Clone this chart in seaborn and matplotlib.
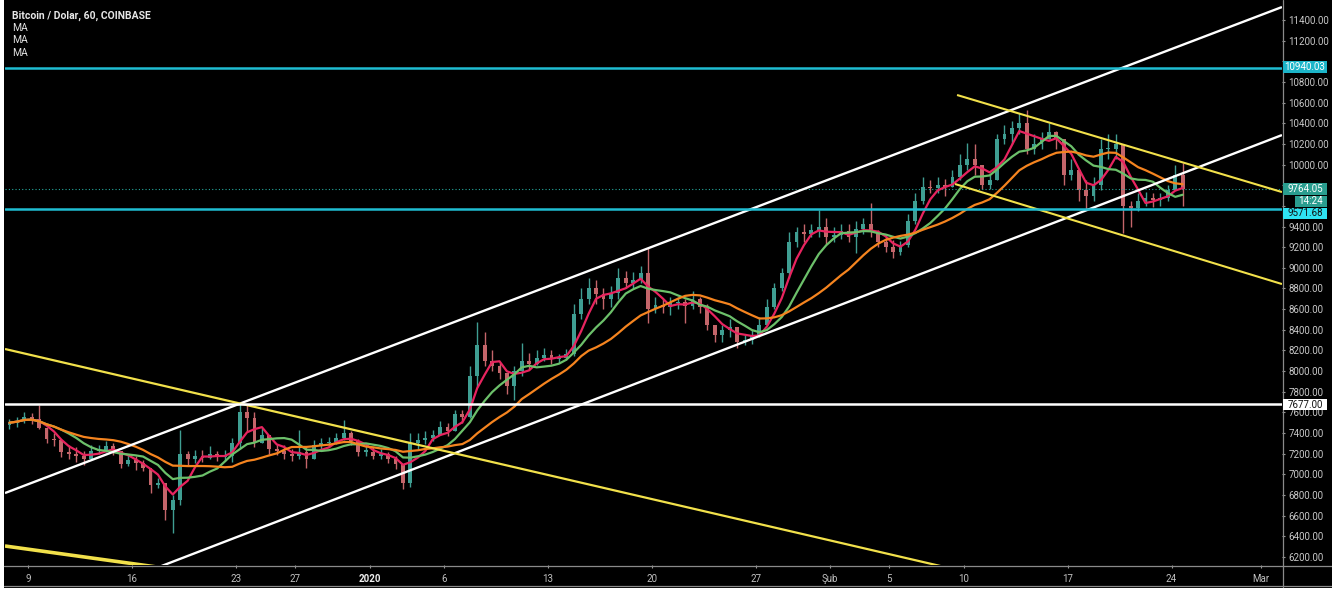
import numpy as np
import pandas as pd
import matplotlib
matplotlib.use("Agg")
import matplotlib.pyplot as plt
import matplotlib.dates as mdates
from matplotlib.patches import Rectangle
from matplotlib.lines import Line2D
from matplotlib import font_manager as fm
import seaborn as sns

# ------------------------------------------------------------------ data
first_open = 7480
candle_start = "2019-12-07 12:00"   # 12-hour candles
closes = [7500, 7520, 7560, 7540, 7450, 7340, 7330, 7220, 7200, 7180,
          7150, 7230, 7240, 7270, 7230, 7100, 7140, 7110, 7060, 6900,
          6920, 6650, 6750, 7200, 7150, 7180, 7160, 7200, 7170, 7180,
          7300, 7600, 7550, 7300, 7380, 7250, 7230, 7200, 7180, 7220,
          7150, 7280, 7300, 7310, 7350, 7400, 7320, 7220, 7220, 7180,
          7200, 7150, 7100, 6920, 7300, 7330, 7350, 7380, 7460, 7420,
          7580, 7560, 7950, 8250, 8100, 8050, 7980, 7860, 8000, 8100,
          8070, 8130, 8160, 8120, 8130, 8170, 8550, 8700, 8800, 8750,
          8700, 8760, 8900, 8850, 8880, 8950, 8600, 8640, 8620, 8660,
          8670, 8630, 8700, 8620, 8450, 8350, 8400, 8430, 8280, 8300,
          8350, 8450, 8620, 8800, 8950, 9250, 9350, 9330, 9370, 9400,
          9300, 9320, 9360, 9300, 9380, 9420, 9350, 9250, 9200, 9150,
          9220, 9450, 9650, 9780, 9770, 9800, 9780, 9880, 10000, 10050,
          10000, 9800, 9850, 10250, 10300, 10350, 10400, 10150, 10200, 10250,
          10320, 10250, 9900, 9950, 9750, 9700, 9800, 10150, 10150, 10200,
          9600, 9580, 9650, 9680, 9660, 9680, 9750, 9900, 9764.05]
highs = [7540, 7560, 7600, 7590, 7670, 7450, 7400, 7300, 7280, 7260,
         7230, 7280, 7280, 7320, 7300, 7220, 7200, 7180, 7140, 7050,
         6960, 6900, 6800, 7430, 7230, 7240, 7240, 7270, 7230, 7240,
         7350, 7680, 7680, 7600, 7450, 7380, 7290, 7280, 7250, 7430,
         7260, 7330, 7350, 7360, 7400, 7530, 7420, 7340, 7280, 7260,
         7250, 7220, 7180, 7100, 7400, 7400, 7420, 7430, 7520, 7500,
         7620, 7620, 8050, 8475, 8380, 8200, 8080, 7960, 8050, 8270,
         8180, 8200, 8220, 8200, 8170, 8210, 8650, 8800, 8900, 8880,
         8800, 8820, 9000, 8970, 8960, 9020, 9190, 8720, 8700, 8720,
         8720, 8700, 8780, 8720, 8650, 8450, 8450, 8500, 8350, 8350,
         8400, 8520, 8700, 8850, 9000, 9350, 9400, 9420, 9420, 9560,
         9480, 9400, 9420, 9420, 9450, 9480, 9630, 9370, 9300, 9270,
         9260, 9520, 9720, 9880, 9850, 9880, 9860, 9950, 10100, 10210,
         10200, 10000, 9900, 10300, 10380, 10420, 10500, 10530, 10300, 10320,
         10400, 10330, 10150, 10050, 9950, 9850, 9880, 10250, 10300, 10300,
         10200, 9650, 9720, 9730, 9720, 9720, 9800, 10000, 10020]
lows = [7440, 7460, 7500, 7490, 7440, 7300, 7270, 7170, 7150, 7120,
        7090, 7150, 7200, 7220, 7190, 7060, 7080, 7040, 7030, 6820,
        6870, 6560, 6430, 6700, 7080, 7110, 7120, 7150, 7130, 7130,
        7120, 7250, 7420, 7260, 7300, 7200, 7190, 7150, 7130, 7150,
        7060, 7150, 7250, 7260, 7290, 7330, 7280, 7180, 7180, 7150,
        7150, 7110, 7050, 6860, 6880, 7250, 7290, 7320, 7380, 7370,
        7420, 7500, 7550, 7850, 8050, 8000, 7920, 7780, 7720, 7950,
        8020, 8060, 8100, 8070, 8080, 8110, 8150, 8500, 8650, 8650,
        8600, 8620, 8700, 8800, 8800, 8850, 8470, 8560, 8560, 8540,
        8600, 8470, 8600, 8560, 8400, 8280, 8280, 8330, 8220, 8250,
        8260, 8330, 8450, 8600, 8780, 8900, 9200, 9250, 9300, 9300,
        9230, 9250, 9280, 9250, 9140, 9330, 9300, 9200, 9150, 9100,
        9120, 9200, 9420, 9620, 9720, 9720, 9700, 9780, 9850, 9950,
        9900, 9760, 9760, 9850, 10200, 10200, 10300, 10100, 10100, 10150,
        10250, 10150, 9800, 9850, 9650, 9560, 9650, 9750, 10050, 10050,
        9340, 9400, 9550, 9600, 9590, 9600, 9650, 9750, 9600]
ma_windows = [4, 8, 16]  # ~50 / 100 / 200 hourly bars expressed in 12h candles

level_lines = [10940.03, 9571.68, 7677.00]
last_price = 9764.05
countdown = "14:24"

upper_channel = [("2019-12-07 10:50", 6819), ("2020-03-02 10:30", 11526)]
lower_channel = [("2019-12-17 12:00", 6085), ("2020-03-02 10:30", 10286)]
long_yellow = [("2019-12-07 10:50", 8214), ("2020-02-10 00:00", 6060)]
short_yellow = [("2019-12-07 10:50", 6306), ("2019-12-18 00:00", 6096)]
desc_upper = [("2020-02-09 13:25", 10674), ("2020-03-02 10:30", 9734)]
desc_lower = [("2020-02-09 10:05", 9812), ("2020-03-02 10:30", 8843)]

date_ticks = ["2019-12-09", "2019-12-16", "2019-12-23", "2019-12-27", "2020-01-01",
              "2020-01-06", "2020-01-13", "2020-01-20", "2020-01-27", "2020-02-01",
              "2020-02-05", "2020-02-10", "2020-02-17", "2020-02-24", "2020-03-01"]
date_labels = ["9", "16", "23", "27", "2020", "6", "13", "20", "27", "Şub",
               "5", "10", "17", "24", "Mar"]
price_ticks = list(range(6200, 11401, 200))
hidden_price_labels = [11000, 9800, 9600]   # covered by the level / price boxes

title_text = "Bitcoin / Dolar, 60, COINBASE"
legend_texts = ["MA", "MA", "MA"]

# ------------------------------------------------------------------ style
W, H = 1332, 593
sns.set_theme(style="dark", rc={"axes.facecolor": "black", "figure.facecolor": "white",
                                "axes.grid": False, "axes.axisbelow": True})
names = {f.name for f in fm.fontManager.ttflist}
NARROW = "Liberation Sans Narrow" if "Liberation Sans Narrow" in names else "Roboto"
plt.rcParams["font.family"] = [NARROW, "DejaVu Sans"]

fig = plt.figure(figsize=(W / 100, H / 100), dpi=100)


def fx(px):
    return px / W


def fy(py):
    return 1 - py / H


# dark chart background (white margin outside like the screenshot)
fig.add_artist(Rectangle((fx(4), fy(588)), fx(1332 - 4), 588 / H, transform=fig.transFigure,
                         facecolor="black", edgecolor="none", zorder=0))

ax = fig.add_axes([fx(5), 28 / H, 1277 / W, 562 / H])
ax.set_facecolor("black")
for s in ax.spines.values():
    s.set_visible(False)

x_left = mdates.date2num(pd.Timestamp("2019-12-07 10:50"))
x_right = mdates.date2num(pd.Timestamp("2020-03-02 10:34"))
ax.set_xlim(x_left, x_right)
ax.set_ylim(6122, 11565)

# ------------------------------------------------------------------ candles
c = np.array(closes, dtype=float)
h = np.array(highs, dtype=float)
l = np.array(lows, dtype=float)
o = np.r_[first_open, c[:-1]]
dates = pd.date_range(candle_start, periods=len(c), freq="12h")
t = mdates.date2num(dates) + 0.25
up = c >= o
UP, DOWN = "#3f9e92", "#c4656a"
cols = np.where(up, UP, DOWN)
ax.vlines(t, l, h, colors=cols, linewidth=1.0, zorder=2)
body = np.maximum(np.abs(c - o), 12)
ax.bar(t, body, bottom=np.minimum(o, c), width=0.26, color=cols, edgecolor="none", zorder=2)

# ------------------------------------------------------------------ moving averages
ma_colors = ["#e8245f", "#6cc06a", "#f5841f"]
cs = pd.Series(c)
for w, col in zip(ma_windows, ma_colors):
    ma = cs.rolling(w, min_periods=1).mean()
    sns.lineplot(x=t, y=ma.values, ax=ax, color=col, linewidth=1.6, zorder=4, legend=False)

# ------------------------------------------------------------------ drawings
def tline(pts, color, lw):
    xs = [mdates.date2num(pd.Timestamp(p[0])) for p in pts]
    ys = [p[1] for p in pts]
    ax.plot(xs, ys, color=color, linewidth=lw, zorder=5, solid_capstyle="butt")


tline(upper_channel, "white", 1.7)
tline(lower_channel, "white", 1.7)
tline(long_yellow, "#f2e14b", 1.6)
tline(short_yellow, "#f2e14b", 2.6)
tline(desc_upper, "#f2e14b", 1.5)
tline(desc_lower, "#f2e14b", 1.5)

CYAN = "#1fbdd2"
ax.axhline(level_lines[0], color=CYAN, linewidth=1.8, zorder=5)
ax.axhline(level_lines[1], color=CYAN, linewidth=1.8, zorder=5)
ax.axhline(level_lines[2], color="white", linewidth=1.8, zorder=5)
ax.axhline(last_price, color="#26a69a", linewidth=0.8, linestyle=(0, (1, 2)), zorder=3)

# ------------------------------------------------------------------ axes / ticks
ax.yaxis.tick_right()
ax.set_yticks(price_ticks)
ax.set_yticklabels(["" if v in hidden_price_labels else f"{v:.2f}" for v in price_ticks])
ax.tick_params(axis="y", which="both", right=True, left=False, labelright=True, labelleft=False,
               length=2.5, width=0.8, color="#9a9a9a", pad=2, labelsize=7, labelcolor="#c8c8c8")
ax.set_xticks([mdates.date2num(pd.Timestamp(d)) for d in date_ticks])
ax.set_xticklabels(date_labels)
ax.tick_params(axis="x", which="both", bottom=True, length=2.5, width=0.8, color="#9a9a9a",
               pad=4, labelsize=7, labelcolor="#c0c0c0")
for lab in ax.get_xticklabels():
    if lab.get_text() == "2020":
        lab.set_fontweight("bold")
        lab.set_color("#f0f0f0")
ax.set_xlabel("")
ax.set_ylabel("")

# separators
fig.add_artist(Line2D([fx(1283), fx(1283)], [fy(0), fy(587)], transform=fig.transFigure,
                      color="#8a8a8a", linewidth=0.9))
fig.add_artist(Line2D([fx(4), 1], [fy(566), fy(566)], transform=fig.transFigure,
                      color="#8a8a8a", linewidth=0.9))
fig.add_artist(Line2D([fx(4), 1], [fy(586), fy(586)], transform=fig.transFigure,
                      color="#8a8a8a", linewidth=0.9))

# ------------------------------------------------------------------ price labels on the scale
def price_box(y0, y1, x0, x1, text, fc, tc):
    fig.add_artist(Rectangle((fx(x0), fy(y1)), fx(x1 - x0), (y1 - y0) / H,
                             transform=fig.transFigure, facecolor=fc, edgecolor="none", zorder=5))
    fig.text(fx((x0 + x1) / 2), fy((y0 + y1) / 2), text, ha="center", va="center",
             fontsize=7, color=tc, zorder=6)


price_box(61, 73, 1283, 1327, f"{level_lines[0]:.2f}", "#1cb5c9", "white")
price_box(183, 195, 1283, 1327, f"{last_price:.2f}", "#2a9d8f", "white")
price_box(196, 207, 1295, 1327, countdown, "#2a9d8f", "white")
price_box(208, 219, 1283, 1327, f"{level_lines[1]:.2f}", "#2ee3f2", "#101010")
price_box(399, 410, 1283, 1327, f"{level_lines[2]:.2f}", "white", "#101010")

# ------------------------------------------------------------------ legend text
fig.text(fx(12), fy(16), title_text, ha="left", va="center", fontsize=7.5,
         fontweight="bold", color="#e6e6e6")
for i, txt in enumerate(legend_texts):
    fig.text(fx(12), fy(28 + 12.3 * i), txt, ha="left", va="center", fontsize=7.5, color="#e0e0e0")

fig.savefig("out.png", dpi=100, facecolor="white")
